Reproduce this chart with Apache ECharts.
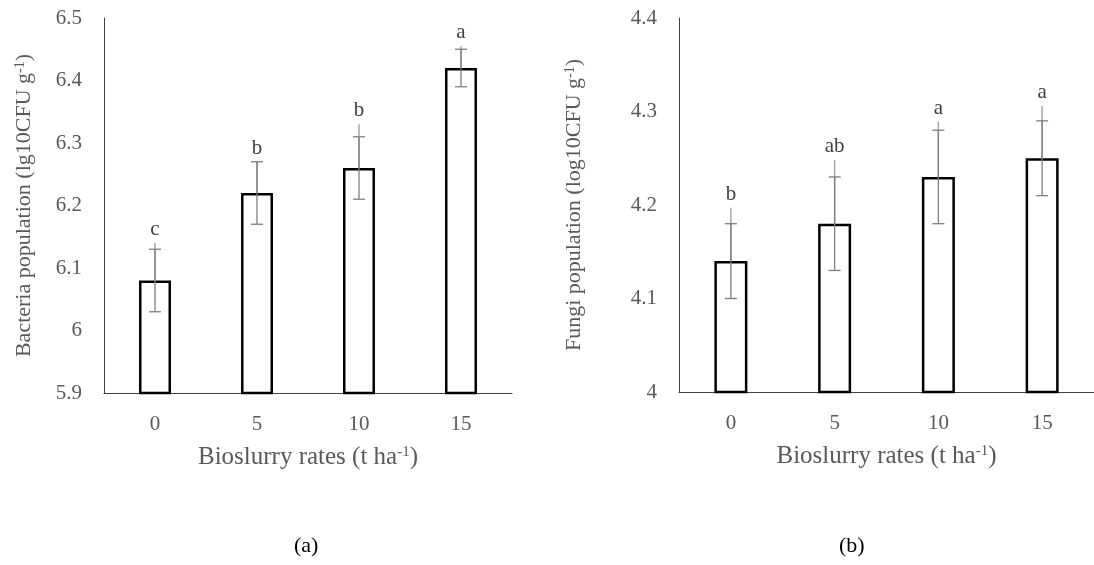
<!DOCTYPE html>
<html><head><meta charset="utf-8">
<script src="https://cdn.jsdelivr.net/npm/echarts@6/dist/echarts.min.js"></script>
<style>html,body{margin:0;padding:0;background:#fff}#c{width:1094px;height:565px}</style>
</head><body><div id="c"></div>
<script>
const categories = ['0', '5', '10', '15'];
const bacteria = [6.08, 6.22, 6.26, 6.42];
const bacteriaErr = [0.05, 0.05, 0.05, 0.03];
const bacteriaUpper = [6.14, 6.27, 6.33, 6.455];
const bacteriaLetters = ['c', 'b', 'b', 'a'];
const fungi = [4.14, 4.18, 4.23, 4.25];
const fungiErr = [0.04, 0.05, 0.05, 0.04];
const fungiUpper = [4.197, 4.248, 4.289, 4.306];
const fungiLetters = ['b', 'ab', 'a', 'a'];

const FONT = '"Liberation Serif", "Times New Roman", serif';
const chart = echarts.init(document.getElementById('c'));

function errRows(vals, errs, ups) {
  return vals.map((v, i) => [i, v, v - errs[i], v + errs[i], ups[i]]);
}
function makeRender(letters) {
  return function (params, api) {
    const i = api.value(0);
    const pv = api.coord([i, api.value(1)]);
    const pl = api.coord([i, api.value(2)]);
    const ph = api.coord([i, api.value(3)]);
    const pu = api.coord([i, api.value(4)]);
    const x = pv[0], hw = 6;
    const topY = Math.min(ph[1], pu[1]);
    return { type: 'group', children: [
      { type: 'line', shape: { x1: x, y1: pu[1], x2: x, y2: pv[1] }, style: { stroke: '#a6a6a6', lineWidth: 1.5 } },
      { type: 'line', shape: { x1: x, y1: ph[1], x2: x, y2: pl[1] }, style: { stroke: '#7f7f7f', lineWidth: 1.3 } },
      { type: 'line', shape: { x1: x - hw, y1: ph[1], x2: x + hw, y2: ph[1] }, style: { stroke: '#7f7f7f', lineWidth: 1.3 } },
      { type: 'line', shape: { x1: x - hw, y1: pl[1], x2: x + hw, y2: pl[1] }, style: { stroke: '#7f7f7f', lineWidth: 1.3 } },
      { type: 'text', style: { text: letters[params.dataIndex], x: x, y: topY - 3, textAlign: 'center', textVerticalAlign: 'bottom', font: '21px ' + FONT, fill: '#404040' } }
    ]};
  };
}
function rich(n, s) {
  return { n: { fontFamily: FONT, fontSize: n, color: '#595959' },
           s: { fontFamily: FONT, fontSize: s, color: '#595959', verticalAlign: 'top', padding: [0, 0, Math.round(n * 0.4), 0] } };
}

function xAx(idx) {
  return { type: 'category', gridIndex: idx, data: categories,
    axisLine: { lineStyle: { color: '#404040', width: 1 } }, axisTick: { show: false },
    axisLabel: { color: '#595959', fontFamily: FONT, fontSize: 21, margin: 21 },
    name: '{n|Bioslurry rates (t ha}{s|-1}{n|)}', nameLocation: 'middle', nameGap: 52,
    nameTextStyle: { rich: rich(25, 15) } };
}
function yAx(idx, min, max, title, gap) {
  return { type: 'value', gridIndex: idx, min: min, max: max, interval: 0.1,
    axisLine: { show: true, lineStyle: { color: '#404040', width: 1 } }, axisTick: { show: false },
    splitLine: { show: false },
    axisLabel: { color: '#595959', fontFamily: FONT, fontSize: 21, margin: 22 },
    name: title, nameLocation: 'middle', nameGap: gap, nameRotate: 90,
    nameTextStyle: { rich: rich(22, 14) } };
}
const barStyle = { color: '#ffffff', borderColor: '#000000', borderWidth: 2.5 };

chart.setOption({
  animation: false,
  grid: [
    { left: 104, top: 18, width: 408, height: 375 },
    { left: 679, top: 18, width: 424, height: 374 }
  ],
  xAxis: [xAx(0), xAx(1)],
  yAxis: [
    yAx(0, 5.9, 6.5, '{n|Bacteria population (lg10CFU g}{s|-1}{n|)}', 68),
    yAx(1, 4.0, 4.4, '{n|Fungi population (log10CFU g}{s|-1}{n|)}', 93)
  ],
  series: [
    { type: 'bar', xAxisIndex: 0, yAxisIndex: 0, data: bacteria, barWidth: 32, itemStyle: barStyle },
    { type: 'bar', xAxisIndex: 1, yAxisIndex: 1, data: fungi, barWidth: 33, itemStyle: barStyle },
    { type: 'custom', xAxisIndex: 0, yAxisIndex: 0, data: errRows(bacteria, bacteriaErr, bacteriaUpper), renderItem: makeRender(bacteriaLetters), z: 10 },
    { type: 'custom', xAxisIndex: 1, yAxisIndex: 1, data: errRows(fungi, fungiErr, fungiUpper), renderItem: makeRender(fungiLetters), z: 10 }
  ],
  graphic: [
    { type: 'text', left: 294, top: 535, style: { text: '(a)', font: '22px ' + FONT, fill: '#000' } },
    { type: 'text', left: 839, top: 535, style: { text: '(b)', font: '22px ' + FONT, fill: '#000' } }
  ]
});
</script></body></html>
